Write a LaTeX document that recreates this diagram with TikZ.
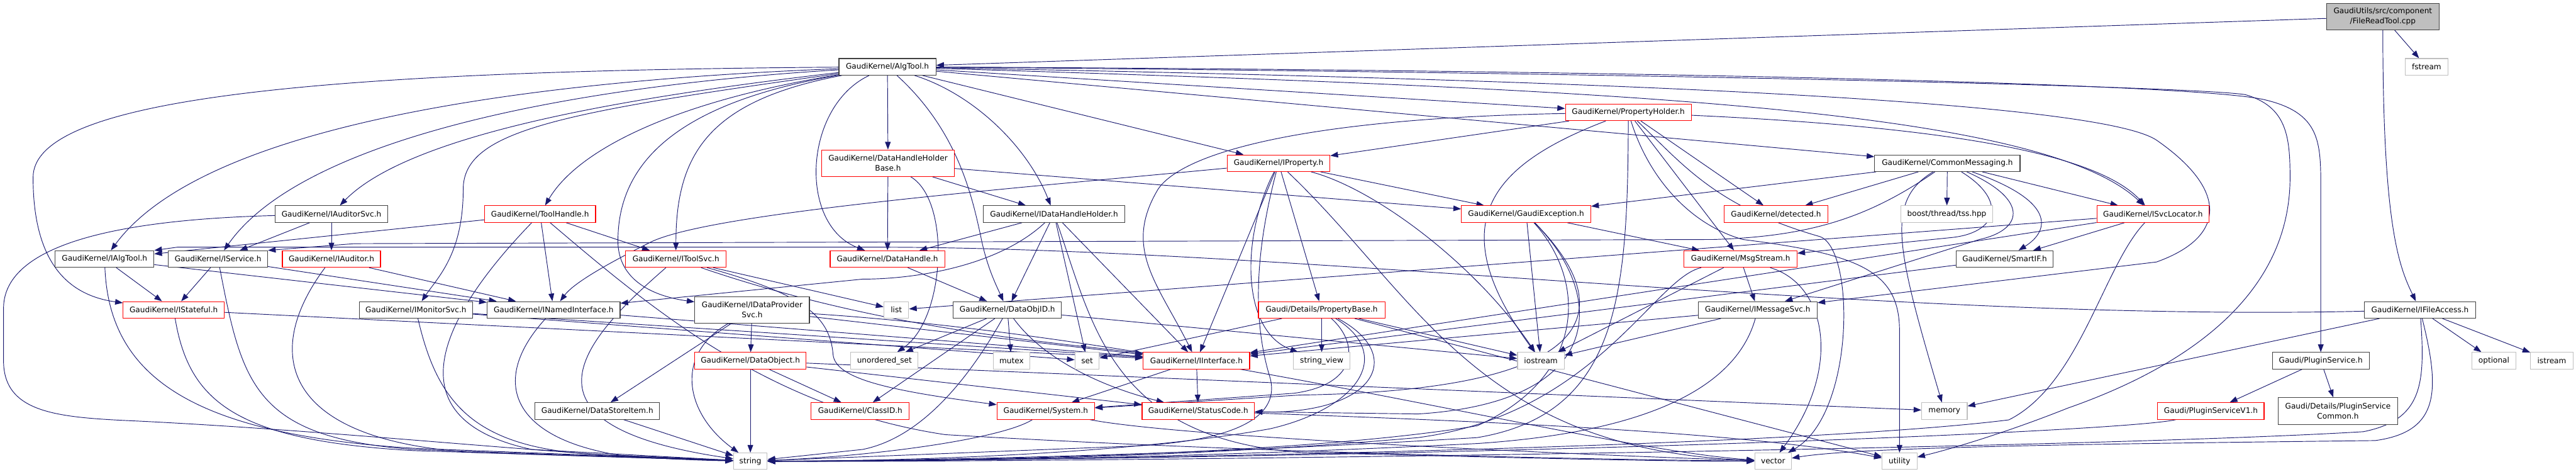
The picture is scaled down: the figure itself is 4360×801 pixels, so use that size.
\documentclass[tikz,border=0pt]{standalone}
\usepackage{fontspec}
\usetikzlibrary{arrows.meta}
\newfontfamily\graphfont{DejaVu Sans}
\definecolor{edgeblue}{HTML}{191970}
\definecolor{grey75}{HTML}{BFBFBF}
\definecolor{grey25}{HTML}{404040}
\definecolor{nodocred}{HTML}{FF0000}
\pgfdeclarelayer{bg}
\pgfsetlayers{bg,main}
\tikzset{
  hdr/.style={draw=grey25, fill=white, line width=1.2pt, minimum height=28pt, inner sep=0pt,
    align=center, font=\graphfont\fontsize{12.9pt}{17pt}\selectfont},
  nodoc/.style={hdr, draw=nodocred},
  syshdr/.style={hdr, draw=grey75},
  rootfile/.style={hdr, fill=grey75},
  incl/.style={draw=edgeblue, line width=1pt, -{Triangle[length=13pt,width=9.5pt]}},
}
\begin{document}
\begin{tikzpicture}[x=1pt,y=-1pt]
  \begin{pgfonlayer}{bg}
    \fill[white] (0,0) rectangle (4360,801);
  \end{pgfonlayer}
  \useasboundingbox (0,0) rectangle (4360,801);

  \node[rootfile, minimum width=190pt, minimum height=45pt] (root) at (4033,28) {GaudiUtils/src/component\\/FileReadTool.cpp};
  \node[hdr, minimum width=164pt] (algtool) at (1502,113) {GaudiKernel/AlgTool.h};
  \node[syshdr, minimum width=72pt] (fstream) at (4107,113) {fstream};
  \node[nodoc, minimum width=213pt] (propholder) at (2756,190) {GaudiKernel/PropertyHolder.h};
  \node[nodoc, minimum width=224pt, minimum height=45pt] (dhhbase) at (1503,276) {GaudiKernel/DataHandleHolder\\Base.h};
  \node[nodoc, minimum width=174pt] (iprop) at (2164,276) {GaudiKernel/IProperty.h};
  \node[hdr, minimum width=246pt] (commsg) at (3296,276) {GaudiKernel/CommonMessaging.h};
  \node[hdr, minimum width=190pt] (iauditorsvc) at (561,362) {GaudiKernel/IAuditorSvc.h};
  \node[nodoc, minimum width=188pt] (toolhandle) at (914,362) {GaudiKernel/ToolHandle.h};
  \node[hdr, minimum width=240pt] (idhh) at (1784,362) {GaudiKernel/IDataHandleHolder.h};
  \node[nodoc, minimum width=219pt] (gaudiexc) at (2583,362) {GaudiKernel/GaudiException.h};
  \node[nodoc, minimum width=175pt] (detected) at (3006,362) {GaudiKernel/detected.h};
  \node[syshdr, minimum width=155pt] (tss) at (3295,362) {boost/thread/tss.hpp};
  \node[nodoc, minimum width=190pt] (isvcloc) at (3644,362) {GaudiKernel/ISvcLocator.h};
  \node[hdr, minimum width=167pt] (ialgtool) at (177,438) {GaudiKernel/IAlgTool.h};
  \node[hdr, minimum width=168pt] (iservice) at (369,438) {GaudiKernel/IService.h};
  \node[nodoc, minimum width=166pt] (iauditor) at (561,438) {GaudiKernel/IAuditor.h};
  \node[nodoc, minimum width=170pt] (itoolsvc) at (1144,438) {GaudiKernel/IToolSvc.h};
  \node[nodoc, minimum width=194pt] (datahandle) at (1502,438) {GaudiKernel/DataHandle.h};
  \node[nodoc, minimum width=191pt] (msgstream) at (2946,438) {GaudiKernel/MsgStream.h};
  \node[hdr, minimum width=164pt] (smartif) at (3393,438) {GaudiKernel/SmartIF.h};
  \node[nodoc, minimum width=171pt] (istateful) at (294,524) {GaudiKernel/IStateful.h};
  \node[hdr, minimum width=192pt] (imonitorsvc) at (704,524) {GaudiKernel/IMonitorSvc.h};
  \node[hdr, minimum width=225pt] (inamed) at (937,524) {GaudiKernel/INamedInterface.h};
  \node[hdr, minimum width=194pt, minimum height=45pt] (idps) at (1273,524) {GaudiKernel/IDataProvider\\Svc.h};
  \node[syshdr, minimum width=42pt] (list) at (1517,524) {list};
  \node[hdr, minimum width=183pt] (dataobjid) at (1705,524) {GaudiKernel/DataObjID.h};
  \node[nodoc, minimum width=214pt] (propbase) at (2237,524) {Gaudi/Details/PropertyBase.h};
  \node[hdr, minimum width=201pt] (imsgsvc) at (2975,524) {GaudiKernel/IMessageSvc.h};
  \node[hdr, minimum width=188pt] (ifileaccess) at (4096,524) {GaudiKernel/IFileAccess.h};
  \node[nodoc, minimum width=189pt] (dataobject) at (1270,610) {GaudiKernel/DataObject.h};
  \node[syshdr, minimum width=114pt] (unorderedset) at (1497,610) {unordered\_set};
  \node[syshdr, minimum width=62pt] (mutex) at (1712,610) {mutex};
  \node[syshdr, minimum width=41pt] (set) at (1840,610) {set};
  \node[nodoc, minimum width=180pt] (iinterface) at (2025,610) {GaudiKernel/IInterface.h};
  \node[syshdr, minimum width=96pt] (stringview) at (2237,610) {string\_view};
  \node[syshdr, minimum width=79pt] (iostream) at (2608,610) {iostream};
  \node[hdr, minimum width=164pt] (pluginsvc) at (3928,610) {Gaudi/PluginService.h};
  \node[syshdr, minimum width=74pt] (optional) at (4221,610) {optional};
  \node[syshdr, minimum width=72pt] (istream) at (4319,610) {istream};
  \node[hdr, minimum width=211pt] (datastoreitem) at (1011,695) {GaudiKernel/DataStoreItem.h};
  \node[nodoc, minimum width=166pt] (classid) at (1456,695) {GaudiKernel/ClassID.h};
  \node[nodoc, minimum width=165pt] (system) at (1770,695) {GaudiKernel/System.h};
  \node[nodoc, minimum width=190pt] (statuscode) at (2028,695) {GaudiKernel/StatusCode.h};
  \node[syshdr, minimum width=77pt] (memory) at (3291,695) {memory};
  \node[nodoc, minimum width=180pt] (pluginv1) at (3742,695) {Gaudi/PluginServiceV1.h};
  \node[hdr, minimum width=202pt, minimum height=45pt] (plugincommon) at (3957,695) {Gaudi/Details/PluginService\\Common.h};
  \node[syshdr, minimum width=57pt] (string) at (1270,780) {string};
  \node[syshdr, minimum width=62pt] (vector) at (3001,780) {vector};
  \node[syshdr, minimum width=59pt] (utility) at (3215,780) {utility};

  \begin{pgfonlayer}{bg}
  % FileReadTool.cpp
  \draw[incl] (root) -- (algtool);
  \draw[incl] (root) -- (fstream);
  \draw[incl] (root) .. controls (4033,380) and (4060,450) .. (ifileaccess);
  % AlgTool.h
  \draw[incl] (algtool) .. controls (500,120) and (56,170) .. (56,300) .. controls (56,450) and (120,500) .. (istateful);
  \draw[incl] (algtool) .. controls (800,140) and (330,230) .. (ialgtool);
  \draw[incl] (algtool) .. controls (900,150) and (500,250) .. (iservice);
  \draw[incl] (algtool) .. controls (1100,160) and (700,220) .. (iauditorsvc);
  \draw[incl] (algtool) .. controls (950,190) and (784,220) .. (784,320) .. controls (784,430) and (740,470) .. (imonitorsvc);
  \draw[incl] (algtool) .. controls (1150,170) and (980,250) .. (toolhandle);
  \draw[incl] (algtool) .. controls (1170,170) and (1050,260) .. (1046,400) .. controls (1042,470) and (1100,500) .. (idps);
  \draw[incl] (algtool) .. controls (1200,170) and (1144,260) .. (itoolsvc);
  \draw[incl] (algtool) -- (dhhbase);
  \draw[incl] (algtool) .. controls (1360,180) and (1350,380) .. (datahandle);
  \draw[incl] (algtool) .. controls (1650,160) and (1740,250) .. (idhh);
  \draw[incl] (algtool) .. controls (1620,220) and (1645,330) .. (1660,400) .. controls (1670,450) and (1685,480) .. (dataobjid);
  \draw[incl] (algtool) -- (iprop);
  \draw[incl] (algtool) -- (propholder);
  \draw[incl] (algtool) -- (commsg);
  \draw[incl] (algtool) .. controls (2700,150) and (3450,180) .. (isvcloc);
  \draw[incl] (algtool) .. controls (2700,135) and (3550,170) .. (3650,237) .. controls (3770,320) and (3770,400) .. (3650,443) -- (imsgsvc);
  \draw[incl] (algtool) .. controls (2700,118) and (3700,140) .. (3830,168) .. controls (3928,190) and (3928,240) .. (3928,320) -- (pluginsvc);
  \draw[incl] (algtool) .. controls (2700,122) and (3700,145) .. (3800,160) .. controls (3870,180) and (3876,230) .. (3876,300) .. controls (3876,500) and (3700,620) .. (3500,690) .. controls (3400,730) and (3300,760) .. (utility);
  % IAuditorSvc.h, IAuditor.h, IAlgTool.h, IService.h
  \draw[incl] (iauditorsvc) -- (iauditor);
  \draw[incl] (iauditorsvc) -- (iservice);
  \draw[incl] (iauditorsvc) .. controls (250,370) and (8,400) .. (6,520) -- (6,610) .. controls (6,700) and (100,706) .. (233,712) .. controls (600,730) and (1000,775) .. (string);
  \draw[incl] (iauditor) -- (inamed);
  \draw[incl] (iauditor) .. controls (440,600) and (480,745) .. (800,765) -- (string);
  \draw[incl] (ialgtool) -- (inamed);
  \draw[incl] (ialgtool) -- (istateful);
  \draw[incl] (ialgtool) .. controls (185,640) and (330,735) .. (700,758) -- (string);
  \draw[incl] (iservice) -- (inamed);
  \draw[incl] (iservice) -- (istateful);
  \draw[incl] (iservice) .. controls (410,650) and (430,740) .. (700,760) -- (string);
  \draw[incl] (istateful) -- (iinterface);
  \draw[incl] (istateful) .. controls (320,680) and (400,745) .. (700,762) -- (string);
  \draw[incl] (imonitorsvc) -- (iinterface);
  \draw[incl] (imonitorsvc) -- (set);
  \draw[incl] (imonitorsvc) .. controls (740,680) and (800,755) .. (1000,768) -- (string);
  \draw[incl] (inamed) -- (iinterface);
  \draw[incl] (inamed) .. controls (830,640) and (860,740) .. (1050,770) -- (string);
  % ToolHandle.h, IToolSvc.h
  \draw[incl] (toolhandle) -- (ialgtool);
  \draw[incl] (toolhandle) -- (inamed);
  \draw[incl] (toolhandle) -- (itoolsvc);
  \draw[incl] (toolhandle) .. controls (800,480) and (620,700) .. (900,760) -- (string);
  \draw[incl] (toolhandle) .. controls (1100,520) and (1300,690) .. (1600,735) .. controls (2200,770) and (2800,778) .. (vector);
  \draw[incl] (itoolsvc) -- (list);
  \draw[incl] (itoolsvc) .. controls (1500,560) and (1800,580) .. (iinterface);
  \draw[incl] (itoolsvc) .. controls (1350,495) and (1405,530) .. (1410,600) .. controls (1415,640) and (1500,660) .. (system);
  \draw[incl] (itoolsvc) .. controls (980,580) and (860,720) .. (string);
  % IDataProviderSvc.h, DataObject.h, DataStoreItem.h
  \draw[incl] (idps) -- (dataobject);
  \draw[incl] (idps) -- (datastoreitem);
  \draw[incl] (idps) .. controls (1140,600) and (1160,700) .. (string);
  \draw[incl] (idps) -- (iinterface);
  \draw[incl] (idps) .. controls (2000,570) and (2700,760) .. (vector);
  \draw[incl] (dataobject) -- (classid);
  \draw[incl] (dataobject) -- (string);
  \draw[incl] (dataobject) -- (statuscode);
  \draw[incl] (dataobject) -- (memory);
  \draw[incl] (datastoreitem) -- (string);
  % DataHandle.h, DataHandleHolderBase.h, IDataHandleHolder.h, DataObjID.h
  \draw[incl] (datahandle) -- (dataobjid);
  \draw[incl] (dhhbase) -- (datahandle);
  \draw[incl] (dhhbase) -- (idhh);
  \draw[incl] (dhhbase) -- (gaudiexc);
  \draw[incl] (dhhbase) .. controls (1610,340) and (1600,540) .. (unorderedset);
  \draw[incl] (idhh) -- (datahandle);
  \draw[incl] (idhh) .. controls (1690,450) and (1550,472) .. (1460,472) -- (inamed);
  \draw[incl] (idhh) -- (dataobjid);
  \draw[incl] (idhh) -- (set);
  \draw[incl] (idhh) -- (iinterface);
  \draw[incl] (idhh) .. controls (1850,550) and (1880,740) .. (2200,765) .. controls (2600,775) and (2800,780) .. (vector);
  \draw[incl] (dataobjid) -- (unorderedset);
  \draw[incl] (dataobjid) -- (classid);
  \draw[incl] (dataobjid) -- (mutex);
  \draw[incl] (dataobjid) .. controls (1760,600) and (1850,650) .. (statuscode);
  \draw[incl] (dataobjid) .. controls (1640,640) and (1560,740) .. (1460,760) -- (string);
  \draw[incl] (dataobjid) -- (iostream);
  % IProperty.h
  \draw[incl] (iprop) .. controls (1700,320) and (1200,360) .. (1100,410) .. controls (1020,450) and (970,480) .. (inamed);
  \draw[incl] (iprop) -- (gaudiexc);
  \draw[incl] (iprop) -- (propbase);
  \draw[incl] (iprop) -- (iinterface);
  \draw[incl] (iprop) .. controls (2330,320) and (2500,450) .. (iostream);
  \draw[incl] (iprop) .. controls (2100,400) and (2100,560) .. (stringview);
  \draw[incl] (iprop) .. controls (2118,450) and (2125,560) .. (2150,640) .. controls (2170,720) and (2050,750) .. (1900,755) -- (string);
  \draw[incl] (iprop) .. controls (2400,500) and (2500,760) .. (vector);
  % PropertyHolder.h
  \draw[incl] (propholder) -- (iprop);
  \draw[incl] (propholder) .. controls (2200,200) and (2000,260) .. (1960,320) .. controls (1900,420) and (1960,480) .. (iinterface);
  \draw[incl] (propholder) -- (detected);
  \draw[incl] (propholder) -- (msgstream);
  \draw[incl] (propholder) .. controls (3300,215) and (3550,260) .. (isvcloc);
  \draw[incl] (propholder) .. controls (2520,280) and (2440,380) .. (iostream);
  \draw[incl] (propholder) .. controls (2755,500) and (2740,700) .. (2500,740) .. controls (2000,770) and (1600,778) .. (string);
  \draw[incl] (propholder) .. controls (2790,300) and (2860,380) .. (2950,405) .. controls (3150,430) and (3215,460) .. (3215,560) -- (utility);
  \draw[incl] (propholder) .. controls (2850,280) and (2905,350) .. (3080,400) .. controls (3140,420) and (3140,700) .. (vector);
  % Gaudi/Details/PropertyBase.h
  \draw[incl] (propbase) -- (stringview);
  \draw[incl] (propbase) -- (set);
  \draw[incl] (propbase) -- (iostream);
  \draw[incl] (propbase) .. controls (2380,600) and (2330,700) .. (statuscode);
  \draw[incl] (propbase) .. controls (2300,580) and (2300,650) .. (2190,665) -- (system);
  \draw[incl] (propbase) .. controls (2360,600) and (2300,690) .. (2150,725) .. controls (1900,770) and (1500,780) .. (string);
  \draw[incl] (propbase) -- (utility);
  % GaudiException.h
  \draw[incl] (gaudiexc) -- (msgstream);
  \draw[incl] (gaudiexc) -- (iostream);
  \draw[incl] (gaudiexc) .. controls (2690,480) and (2680,640) .. (2500,720) .. controls (2200,770) and (1600,780) .. (string);
  \draw[incl] (gaudiexc) .. controls (2720,500) and (2720,680) .. (2400,700) -- (statuscode);
  \draw[incl] (gaudiexc) .. controls (2740,520) and (2720,660) .. (2200,668) -- (system);
  % CommonMessaging.h
  \draw[incl] (commsg) -- (gaudiexc);
  \draw[incl] (commsg) -- (detected);
  \draw[incl] (commsg) -- (tss);
  \draw[incl] (commsg) -- (isvcloc);
  \draw[incl] (commsg) .. controls (3160,370) and (3060,400) .. (2900,405) -- (600,412) -- (iservice.north east);
  \draw[incl] (commsg) .. controls (3440,340) and (3420,390) .. (3350,405) -- (imsgsvc);
  \draw[incl] (commsg) .. controls (3400,340) and (3380,395) .. (3300,402) -- (msgstream);
  \draw[incl] (commsg) .. controls (3480,340) and (3470,390) .. (smartif);
  \draw[incl] (commsg) .. controls (3190,340) and (3210,420) .. (memory);
  % ISvcLocator.h, MsgStream.h, SmartIF.h, IMessageSvc.h
  \draw[incl] (isvcloc) -- (smartif);
  \draw[incl] (isvcloc) -- (list);
  \draw[incl] (isvcloc) -- (iinterface);
  \draw[incl] (isvcloc) .. controls (3560,450) and (3520,650) .. (3400,710) .. controls (3000,760) and (1700,780) .. (string);
  \draw[incl] (msgstream) -- (imsgsvc);
  \draw[incl] (msgstream) -- (iostream);
  \draw[incl] (msgstream) .. controls (3090,480) and (3120,620) .. (vector);
  \draw[incl] (msgstream) .. controls (2800,470) and (2700,700) .. (2400,740) .. controls (2000,775) and (1600,780) .. (string);
  \draw[incl] (smartif) -- (iinterface);
  \draw[incl] (imsgsvc) -- (iinterface);
  \draw[incl] (imsgsvc) -- (iostream);
  \draw[incl] (imsgsvc) .. controls (2940,650) and (2800,730) .. (2500,750) .. controls (2000,775) and (1600,780) .. (string);
  % IInterface.h, StatusCode.h, System.h
  \draw[incl] (iinterface) -- (statuscode);
  \draw[incl] (iinterface) -- (system);
  \draw[incl] (statuscode) .. controls (2500,712) and (2950,730) .. (utility);
  \draw[incl] (system) .. controls (1700,740) and (1500,770) .. (string);
  \draw[incl] (system) .. controls (2000,740) and (2700,770) .. (vector);
  % IFileAccess.h, Gaudi/PluginService.h
  \draw[incl] (ifileaccess) .. controls (3200,545) and (2200,420) .. (1500,418) -- (300,418) -- (ialgtool.north east);
  \draw[incl] (ifileaccess) -- (memory);
  \draw[incl] (ifileaccess) -- (optional);
  \draw[incl] (ifileaccess) -- (istream);
  \draw[incl] (ifileaccess) .. controls (4105,650) and (4100,710) .. (4000,730) .. controls (3500,760) and (1800,782) .. (string);
  \draw[incl] (ifileaccess) .. controls (4130,660) and (4130,730) .. (4020,745) .. controls (3600,750) and (3150,755) .. (vector);
  \draw[incl] (pluginsvc) -- (pluginv1);
  \draw[incl] (pluginsvc) -- (plugincommon);
  \draw[incl] (pluginv1) .. controls (3600,730) and (2500,775) .. (string);
  \end{pgfonlayer}
\end{tikzpicture}
\end{document}
